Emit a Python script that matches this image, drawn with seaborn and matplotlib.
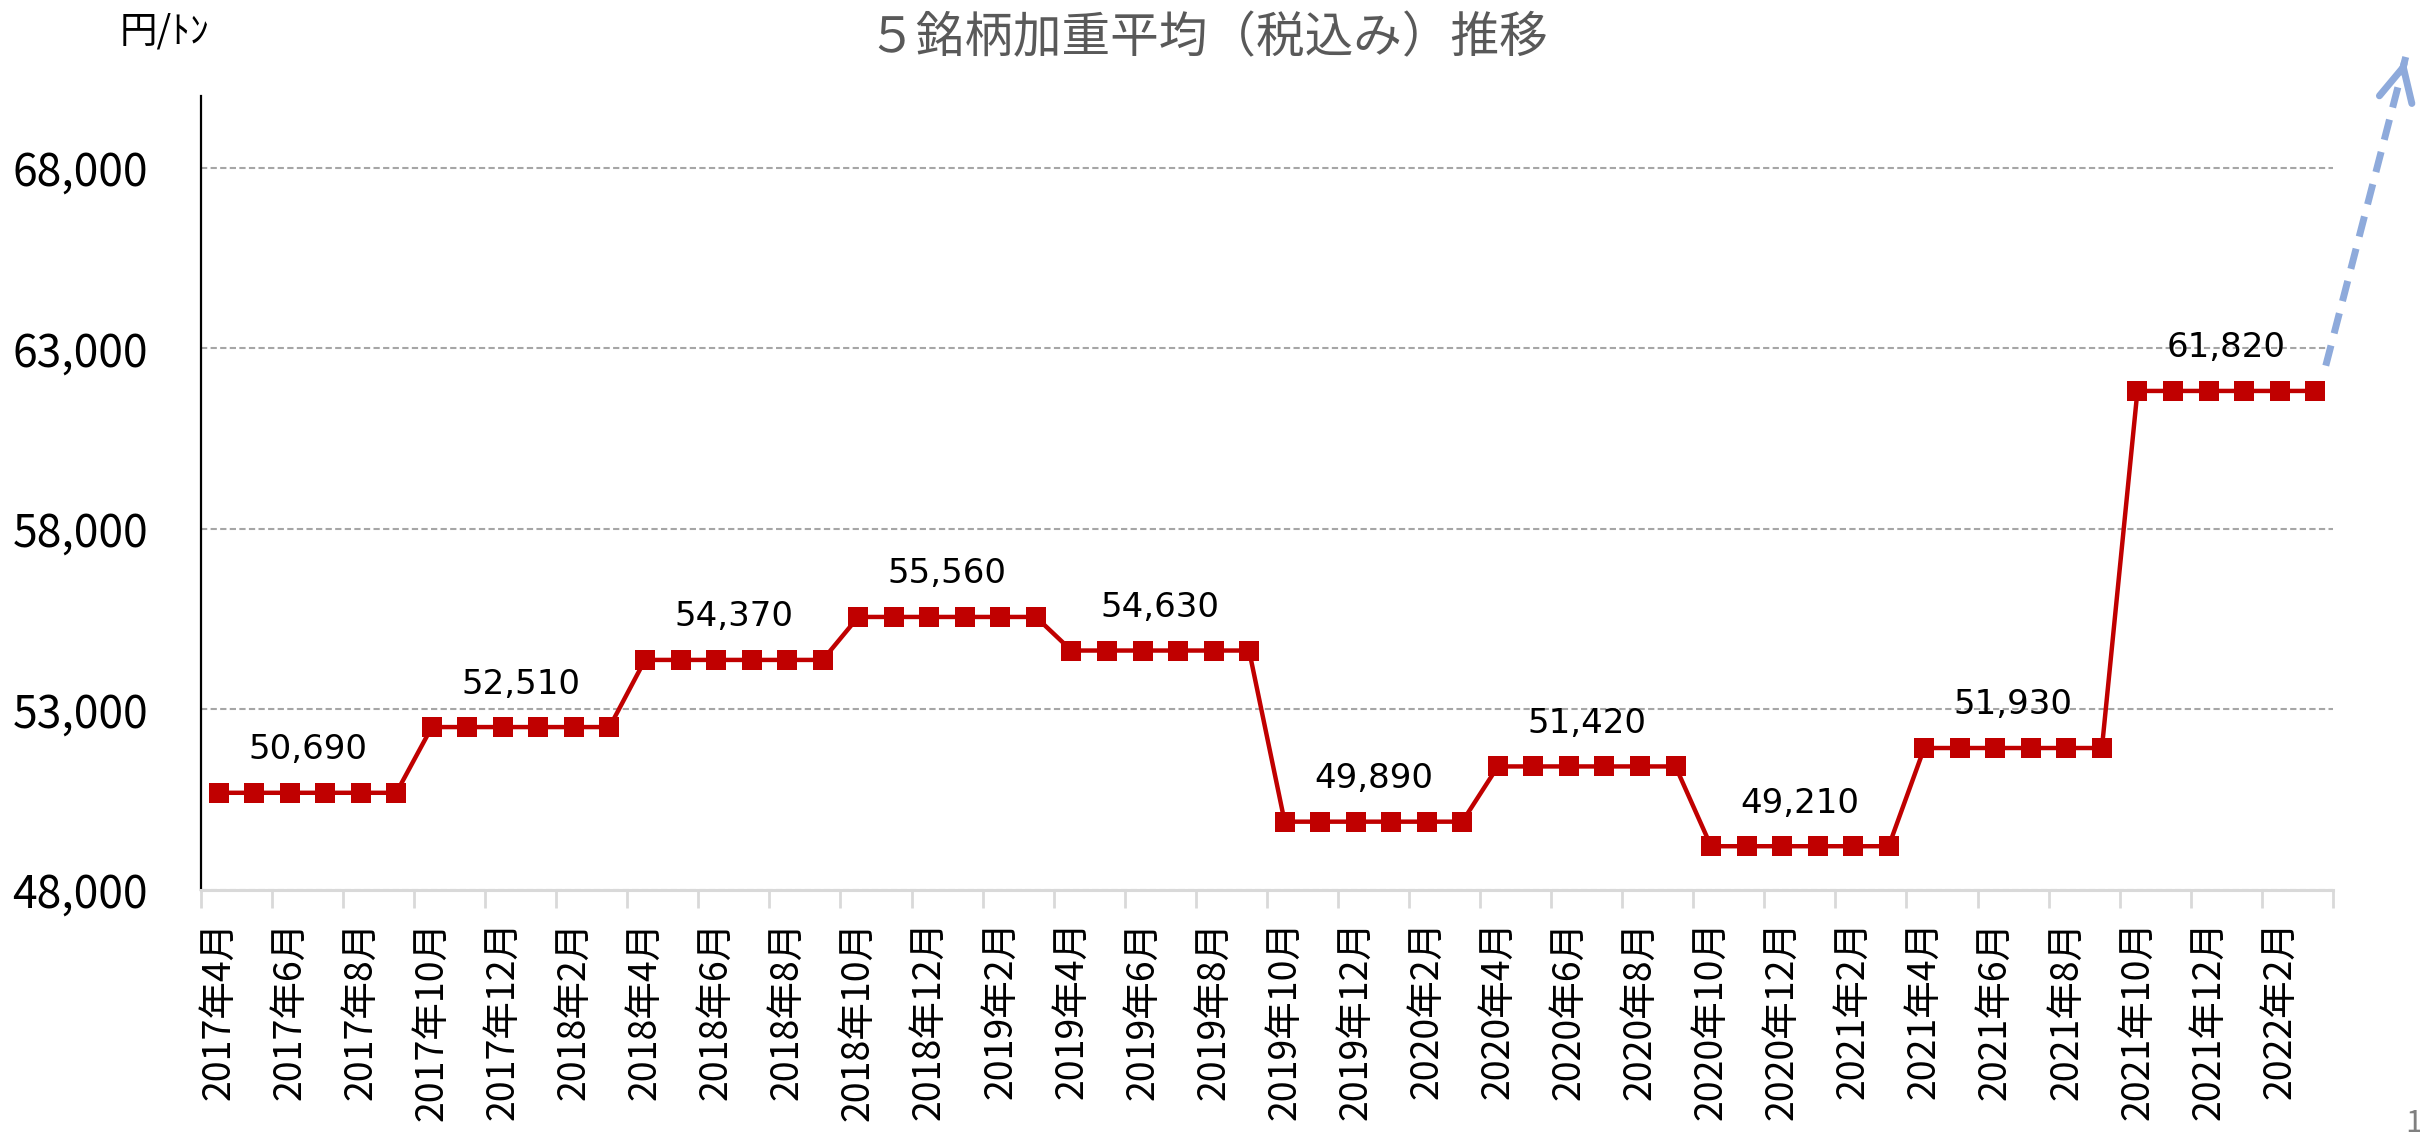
import numpy as np
import pandas as pd
import matplotlib
matplotlib.use("Agg")
import matplotlib.pyplot as plt
import seaborn as sns

# monthly weighted average price (yen/ton), Apr 2017 - Mar 2022
months = list(pd.date_range("2017-04-01", periods=60, freq="MS").strftime("%Y-%m"))
price = [
    50690, 50690, 50690, 50690, 50690, 50690,
    52510, 52510, 52510, 52510, 52510, 52510,
    54370, 54370, 54370, 54370, 54370, 54370,
    55560, 55560, 55560, 55560, 55560, 55560,
    54630, 54630, 54630, 54630, 54630, 54630,
    49890, 49890, 49890, 49890, 49890, 49890,
    51420, 51420, 51420, 51420, 51420, 51420,
    49210, 49210, 49210, 49210, 49210, 49210,
    51930, 51930, 51930, 51930, 51930, 51930,
    61820, 61820, 61820, 61820, 61820, 61820,
]
period_len = 6
period_values = [50690, 52510, 54370, 55560, 54630, 49890, 51420, 49210, 51930, 61820]
tick_labels = [
    "2017年4月", "2017年6月", "2017年8月", "2017年10月", "2017年12月",
    "2018年2月", "2018年4月", "2018年6月", "2018年8月", "2018年10月", "2018年12月",
    "2019年2月", "2019年4月", "2019年6月", "2019年8月", "2019年10月", "2019年12月",
    "2020年2月", "2020年4月", "2020年6月", "2020年8月", "2020年10月", "2020年12月",
    "2021年2月", "2021年4月", "2021年6月", "2021年8月", "2021年10月", "2021年12月",
    "2022年2月",
]
y_ticks = [48000, 53000, 58000, 63000, 68000]

df = pd.DataFrame({"month": months, "price": price})
df["pos"] = np.arange(len(df))

sns.set_style("white")
plt.rcParams["font.family"] = ["Noto Sans CJK JP", "DejaVu Sans"]
plt.rcParams["text.color"] = "black"
plt.rcParams["xtick.color"] = "black"
plt.rcParams["ytick.color"] = "black"

fig, ax = plt.subplots(figsize=(24.2, 11.38), dpi=100)
fig.subplots_adjust(left=0.083, right=0.964, top=0.916, bottom=0.218)

sns.lineplot(data=df, x="pos", y="price", ax=ax, color="#c00000", linewidth=3.2,
             marker="s", markersize=14, markeredgewidth=0, zorder=3)

ax.set_xlim(-0.5, len(df) - 0.5)
ax.set_ylim(48000, 70000)
ax.set_xlabel("")
ax.set_ylabel("")

ax.set_yticks(y_ticks)
ax.set_yticklabels([f"{v:,}" for v in y_ticks], fontsize=32, color="black")
ax.tick_params(axis="y", length=0, pad=38)
ax.yaxis.grid(True, linestyle=(0, (3, 1.6)), color="#a6a6a6", linewidth=1.5)
ax.xaxis.grid(False)

ax.set_xticks(np.arange(0, len(df), 2))
ax.set_xticklabels(tick_labels, rotation=90, fontsize=27, color="black")
ax.set_xticks(np.arange(-0.5, len(df), 2), minor=True)
ax.tick_params(axis="x", which="major", length=0, pad=22)
ax.tick_params(axis="x", which="minor", length=13, width=2, color="#d9d9d9", bottom=True)

for side in ["top", "right"]:
    ax.spines[side].set_visible(False)
ax.spines["left"].set_color("black")
ax.spines["left"].set_linewidth(1.6)
ax.spines["bottom"].set_color("#d9d9d9")
ax.spines["bottom"].set_linewidth(2.2)

# period labels above each flat segment
for k, val in enumerate(period_values):
    ax.annotate(f"{val:,}", xy=(k * period_len + 2.5, val), xytext=(0, 31),
                textcoords="offset points", ha="center", va="center",
                fontsize=24.5, family="DejaVu Sans", color="black")

# dashed upward arrow after the last period
x_last = len(df) - 1
y_last = price[-1]
arrow_from = (x_last + 0.3, y_last + 700)
arrow_to = (x_last + 2.55, y_last + 9250)
ax.plot([arrow_from[0], arrow_to[0]], [arrow_from[1], arrow_to[1]], color="#8eaadb",
        linewidth=5, linestyle=(0, (3, 1.8)), clip_on=False)
ax.annotate("", xy=arrow_to, xytext=(arrow_to[0] - 0.06, arrow_to[1] - 250),
            arrowprops=dict(arrowstyle="->", color="#8eaadb", lw=5, mutation_scale=60,
                            capstyle="round", joinstyle="round"),
            annotation_clip=False)

fig.text(0.499, 0.966, "５銘柄加重平均（税込み）推移", ha="center", va="center",
         fontsize=35, color="#595959")
fig.text(0.0495, 0.972, "円/ﾄﾝ", ha="left", va="center", fontsize=27, color="black")
fig.text(0.994, 0.013, "1", ha="left", va="center", fontsize=22, color="#808080")

fig.savefig("out.png", dpi=100)
